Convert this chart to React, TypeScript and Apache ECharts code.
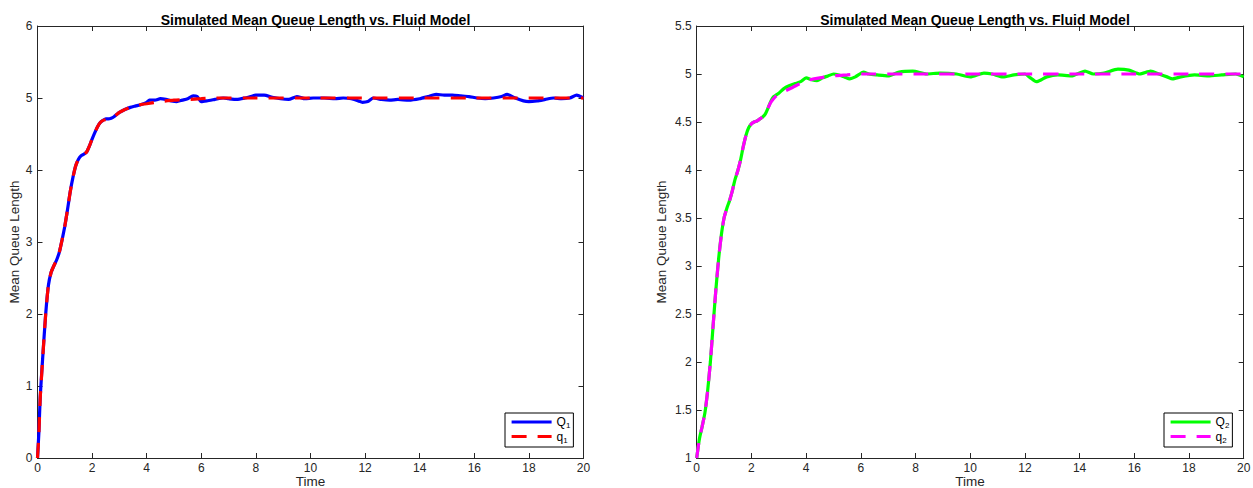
import React, { useEffect, useRef } from "react";
import * as echarts from "echarts";

// ---------- Left panel: queue 1 ----------
const q1SimTime = [0, 0.05, 0.1, 0.2, 0.3, 0.4, 0.5, 0.6, 0.7, 0.8, 0.9, 1.0, 1.1, 1.2, 1.3, 1.4, 1.5, 1.6, 1.7, 1.8, 1.9, 2.0, 2.1, 2.2, 2.3, 2.4, 2.5, 2.6, 2.7, 2.8, 2.9, 3.0, 3.2, 3.4, 3.6, 3.8, 4.0, 4.1, 4.3, 4.5, 4.7, 4.9, 5.1, 5.3, 5.5, 5.7, 5.85, 6.0, 6.2, 6.5, 6.8, 7.0, 7.3, 7.6, 7.8, 8.0, 8.3, 8.6, 8.9, 9.2, 9.5, 9.8, 10.1, 10.5, 10.9, 11.2, 11.5, 11.75, 11.9, 12.1, 12.3, 12.6, 12.9, 13.2, 13.6, 14.0, 14.3, 14.6, 14.9, 15.2, 15.5, 15.8, 16.1, 16.4, 16.7, 17.0, 17.2, 17.5, 17.8, 18.0, 18.3, 18.6, 18.9, 19.2, 19.5, 19.75, 20];
const q1SimValue = [0, 0.35, 0.85, 1.45, 2.0, 2.4, 2.58, 2.67, 2.75, 2.86, 3.03, 3.22, 3.45, 3.7, 3.9, 4.06, 4.15, 4.2, 4.22, 4.25, 4.33, 4.43, 4.52, 4.6, 4.66, 4.69, 4.71, 4.71, 4.72, 4.74, 4.77, 4.8, 4.84, 4.87, 4.89, 4.91, 4.94, 4.97, 4.97, 4.99, 4.98, 4.96, 4.95, 4.97, 4.99, 5.03, 5.02, 4.95, 4.96, 4.98, 5.0, 4.99, 4.98, 5.0, 5.02, 5.04, 5.04, 5.01, 4.99, 4.98, 5.02, 4.99, 5.0, 5.0, 4.99, 5.0, 4.99, 4.96, 4.94, 4.95, 5.0, 4.98, 4.97, 4.98, 4.97, 4.99, 5.02, 5.05, 5.04, 5.04, 5.03, 5.02, 5.0, 4.99, 5.0, 5.02, 5.05, 5.0, 4.96, 4.95, 4.96, 4.98, 5.0, 4.99, 5.0, 5.04, 5.0];

const q1FluidTime = [0, 0.05, 0.1, 0.2, 0.3, 0.4, 0.5, 0.6, 0.7, 0.8, 0.9, 1.0, 1.1, 1.2, 1.3, 1.4, 1.5, 1.6, 1.7, 1.8, 1.9, 2.0, 2.1, 2.2, 2.3, 2.4, 2.5, 2.6, 2.7, 2.8, 2.9, 3.0, 3.2, 3.4, 3.6, 3.8, 4.0, 4.5, 5.0, 5.5, 6.0, 6.5, 8, 10, 12, 14, 16, 18, 20];
const q1FluidValue = [0, 0.33, 0.83, 1.44, 2.0, 2.4, 2.58, 2.67, 2.75, 2.86, 3.03, 3.22, 3.45, 3.7, 3.9, 4.06, 4.15, 4.2, 4.22, 4.25, 4.33, 4.43, 4.52, 4.6, 4.66, 4.69, 4.7, 4.71, 4.72, 4.74, 4.77, 4.8, 4.84, 4.87, 4.89, 4.91, 4.92, 4.95, 4.97, 4.98, 4.99, 5.0, 5.0, 5.0, 5.0, 5.0, 5.0, 5.0, 5.0];

// ---------- Right panel: queue 2 ----------
const q2SimTime = [0, 0.1, 0.2, 0.3, 0.4, 0.5, 0.6, 0.7, 0.8, 0.9, 1.0, 1.1, 1.2, 1.3, 1.4, 1.5, 1.6, 1.7, 1.8, 1.9, 2.0, 2.1, 2.2, 2.3, 2.4, 2.5, 2.6, 2.7, 2.8, 2.9, 3.0, 3.2, 3.4, 3.6, 3.8, 4.0, 4.2, 4.4, 4.6, 4.8, 5.0, 5.2, 5.4, 5.6, 5.8, 6.1, 6.3, 6.6, 7.0, 7.4, 7.9, 8.4, 8.9, 9.5, 10.0, 10.5, 10.8, 11.2, 11.6, 12.0, 12.2, 12.42, 12.6, 12.8, 13.2, 13.7, 14.2, 14.5, 14.9, 15.4, 15.8, 16.2, 16.6, 16.9, 17.2, 17.4, 17.7, 18.2, 18.7, 19.2, 19.7, 20];
const q2SimValue = [1.0, 1.2, 1.33, 1.47, 1.7, 2.0, 2.38, 2.75, 3.07, 3.32, 3.5, 3.6, 3.68, 3.78, 3.9, 3.99, 4.1, 4.24, 4.36, 4.44, 4.48, 4.5, 4.51, 4.53, 4.55, 4.58, 4.64, 4.71, 4.76, 4.78, 4.8, 4.85, 4.88, 4.9, 4.92, 4.96, 4.94, 4.93, 4.96, 4.98, 5.0, 4.99, 4.97, 4.95, 4.97, 5.02, 5.0, 4.99, 4.98, 5.02, 5.03, 5.0, 5.01, 5.0, 4.97, 5.01, 5.0, 4.97, 4.99, 5.0, 4.96, 4.92, 4.94, 4.97, 4.99, 4.98, 5.03, 5.0, 5.01, 5.05, 5.04, 5.0, 5.03, 5.0, 4.97, 4.95, 4.97, 4.99, 4.98, 4.99, 5.0, 4.97];

const q2FluidTime = [0, 0.1, 0.2, 0.3, 0.4, 0.5, 0.6, 0.7, 0.8, 0.9, 1.0, 1.1, 1.2, 1.3, 1.4, 1.5, 1.6, 1.7, 1.8, 1.9, 2.0, 2.1, 2.2, 2.3, 2.4, 2.5, 2.6, 2.7, 2.8, 2.9, 3.0, 3.5, 4.0, 4.5, 5.0, 5.5, 6.0, 8, 10, 12, 14, 16, 18, 20];
const q2FluidValue = [1.0, 1.2, 1.33, 1.47, 1.7, 2.0, 2.38, 2.75, 3.07, 3.32, 3.5, 3.6, 3.68, 3.78, 3.9, 3.99, 4.1, 4.24, 4.36, 4.44, 4.48, 4.5, 4.51, 4.53, 4.55, 4.58, 4.64, 4.7, 4.74, 4.77, 4.79, 4.86, 4.93, 4.96, 4.98, 4.99, 5.0, 5.0, 5.0, 5.0, 5.0, 5.0, 5.0, 5.0];

const xTicksMax = 20;
const titleText = "Simulated Mean Queue Length vs. Fluid Model";
const xName = "Time";

const pairs = (t: number[], v: number[]) => t.map((x, i) => [x, v[i]]);

const AXIS = "#262626";
const FONT = "Liberation Sans";
const DASH = [15, 11];

function xAx(grid: number, top: boolean) {
  return {
    type: "value",
    gridIndex: grid,
    position: top ? "top" : "bottom",
    min: 0,
    max: xTicksMax,
    interval: 2,
    axisLine: { show: true, onZero: false, lineStyle: { color: AXIS, width: 1 } },
    axisTick: { show: true, inside: true, length: 5, lineStyle: { color: AXIS } },
    axisLabel: { show: !top, margin: 4, fontFamily: FONT, fontSize: 12, color: AXIS },
    splitLine: { show: false },
  };
}

function yAx(grid: number, right: boolean, min: number, max: number, interval: number, nameGap: number) {
  return {
    type: "value",
    gridIndex: grid,
    position: right ? "right" : "left",
    min,
    max,
    interval,
    name: right ? "" : "Mean Queue Length",
    nameLocation: "middle",
    nameGap,
    nameTextStyle: { fontFamily: FONT, fontSize: 13.5, color: AXIS },
    axisLine: { show: true, onZero: false, lineStyle: { color: AXIS, width: 1 } },
    axisTick: { show: true, inside: true, length: 5, lineStyle: { color: AXIS } },
    axisLabel: { show: !right, margin: 5, fontFamily: FONT, fontSize: 12, color: AXIS },
    splitLine: { show: false },
  };
}

function legendFor(names: string[], colors: string[], left: number) {
  return {
    data: [
      { name: names[0], lineStyle: { color: colors[0], width: 3.2, type: "solid" } },
      { name: names[1], lineStyle: { color: colors[1], width: 3.2, type: DASH } },
    ],
    left,
    top: 413,
    orient: "vertical",
    itemWidth: 40,
    itemHeight: 12,
    itemGap: 1,
    padding: [3, 3, 3, 5],
    borderColor: "#000",
    borderWidth: 1,
    backgroundColor: "#fff",
    itemStyle: { opacity: 0 },
    formatter: (n: string) => n[0] + "{s|" + n[1] + "}",
    textStyle: {
      fontFamily: FONT,
      fontSize: 12,
      color: "#000",
      rich: { s: { fontFamily: FONT, fontSize: 8, padding: [7, 0, 0, 0] } },
    },
  };
}

function lineSeries(name: string, data: number[][], color: string, dashed: boolean, axis: number) {
  return {
    type: "line",
    name,
    data,
    xAxisIndex: axis,
    yAxisIndex: axis,
    showSymbol: false,
    symbol: "none",
    smooth: 0.2,
    color,
    lineStyle: { color, width: 3.2, type: dashed ? DASH : "solid", cap: "butt" },
  };
}

function xNameText(cx: number) {
  return {
    type: "text",
    x: cx,
    y: 481,
    style: { text: xName, fontFamily: FONT, fontSize: 13.5, fill: AXIS, align: "center", verticalAlign: "middle" },
  };
}

export default function App() {
  const ref = useRef<HTMLDivElement>(null);
  useEffect(() => {
    document.body.style.margin = "0";
    const chart = echarts.init(ref.current!, null, { renderer: "svg" });
    chart.setOption({
      animation: false,
      backgroundColor: "#fff",
      title: [
        { text: titleText, left: 310.5, top: 8, textAlign: "center", textStyle: { fontFamily: FONT, fontSize: 14, fontWeight: "bold", color: "#000" } },
        { text: titleText, left: 970, top: 8, textAlign: "center", textStyle: { fontFamily: FONT, fontSize: 14, fontWeight: "bold", color: "#000" } },
      ],
      grid: [
        { left: 37.5, top: 26, width: 546, height: 432, containLabel: false, outerBoundsMode: "none" },
        { left: 696.7, top: 26, width: 547, height: 432, containLabel: false, outerBoundsMode: "none" },
      ],
      xAxis: [xAx(0, false), xAx(0, true), xAx(1, false), xAx(1, true)],
      yAxis: [
        yAx(0, false, 0, 6, 1, 14),
        yAx(0, true, 0, 6, 1, 14),
        yAx(1, false, 1, 5.5, 0.5, 28),
        yAx(1, true, 1, 5.5, 0.5, 28),
      ],
      legend: [
        legendFor(["Q1", "q1"], ["#0000ff", "#ff0000"], 505),
        legendFor(["Q2", "q2"], ["#00ff00", "#ff00ff"], 1164),
      ],
      graphic: [xNameText(310.5), xNameText(970)],
      series: [
        lineSeries("Q1", pairs(q1SimTime, q1SimValue), "#0000ff", false, 0),
        lineSeries("q1", pairs(q1FluidTime, q1FluidValue), "#ff0000", true, 0),
        lineSeries("Q2", pairs(q2SimTime, q2SimValue), "#00ff00", false, 2),
        lineSeries("q2", pairs(q2FluidTime, q2FluidValue), "#ff00ff", true, 2),
      ],
    });
    return () => chart.dispose();
  }, []);
  return <div ref={ref} style={{ width: 1253, height: 488 }} />;
}
